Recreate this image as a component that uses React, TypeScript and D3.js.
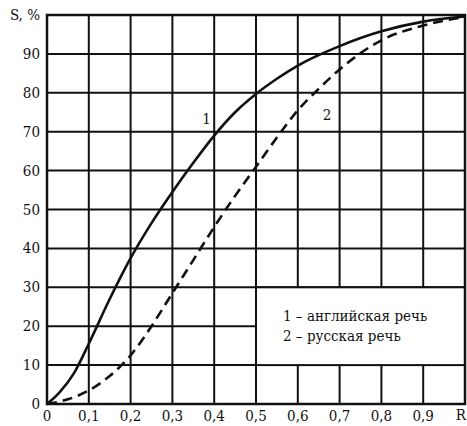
import React from "react";
import * as d3 from "d3";

const xTicks = [0, 0.1, 0.2, 0.3, 0.4, 0.5, 0.6, 0.7, 0.8, 0.9];
const yTicks = [0, 10, 20, 30, 40, 50, 60, 70, 80, 90];
const gridX = [0.1, 0.2, 0.3, 0.4, 0.5, 0.6, 0.7, 0.8, 0.9];
const gridY = [10, 20, 30, 40, 50, 60, 70, 80, 90];

const rEnglish = [0, 0.03, 0.065, 0.1, 0.15, 0.2, 0.25, 0.3, 0.35, 0.4, 0.45, 0.5, 0.55, 0.6, 0.7, 0.8, 0.9, 1.0];
const sEnglish = [0, 3, 8, 15.5, 27, 37.5, 46.5, 54.5, 62, 69, 75, 79.7, 83.6, 87, 92, 95.8, 98.3, 99.6];

const rRussian = [0, 0.05, 0.1, 0.15, 0.2, 0.25, 0.3, 0.35, 0.4, 0.45, 0.5, 0.55, 0.6, 0.65, 0.7, 0.8, 0.9, 1.0];
const sRussian = [0, 1.2, 3.5, 7.2, 12.5, 20, 28.5, 37, 45.5, 53.5, 61, 68.5, 75.5, 81, 86, 93.5, 97.3, 99.5];

const legendLines = ["1 – английская речь", "2 – русская речь"];

const FONT = "'DejaVu Serif Condensed', 'DejaVu Serif', serif";

export default function App() {
  const W = 467, H = 426;
  const x = d3.scaleLinear().domain([0, 1]).range([47, 465]);
  const y = d3.scaleLinear().domain([0, 100]).range([404, 15]);
  const line = d3
    .line<[number, number]>()
    .x((d) => x(d[0]))
    .y((d) => y(d[1]))
    .curve(d3.curveMonotoneX);
  const eng = line(rEnglish.map((r, i) => [r, sEnglish[i]]) as [number, number][]) || "";
  const rus = line(rRussian.map((r, i) => [r, sRussian[i]]) as [number, number][]) || "";
  const ts: React.CSSProperties = { fontFamily: FONT, fontSize: 15 };
  return (
    <svg width={W} height={H} style={{ position: "absolute", left: 0, top: 0, background: "#fff", fontFamily: FONT }}>
      <rect x={0} y={0} width={W} height={H} fill="#fff" />
      {gridX.map((v) => (
        <line key={"gx" + v} x1={x(v)} x2={x(v)} y1={y(100)} y2={y(0)} stroke="#111" strokeWidth={2} />
      ))}
      {gridY.map((v) => (
        <line key={"gy" + v} x1={x(0)} x2={x(1)} y1={y(v)} y2={y(v)} stroke="#111" strokeWidth={2} />
      ))}
      <rect x={x(0.5)} y={y(30)} width={x(1) - x(0.5)} height={y(10) - y(30)} fill="#fff" stroke="#111" strokeWidth={2} />
      <rect x={x(0)} y={y(100)} width={x(1) - x(0)} height={y(0) - y(100)} fill="none" stroke="#111" strokeWidth={2.5} />
      <path d={eng} fill="none" stroke="#111" strokeWidth={2.6} />
      <path d={rus} fill="none" stroke="#111" strokeWidth={2.6} strokeDasharray="10 6" />
      <text x={x(0.4) - 12} y={y(72)} style={ts} fill="#111">1</text>
      <text x={x(0.65) + 4} y={y(73)} style={ts} fill="#111">2</text>
      {legendLines.map((t, i) => (
        <text key={t} x={283} y={321 + i * 20} style={ts} fill="#111">{t}</text>
      ))}
      {yTicks.map((v) => (
        <text key={"yt" + v} x={40} y={y(v) + 5} style={ts} textAnchor="end" fill="#111">{v}</text>
      ))}
      <text x={40} y={y(100) + 5} style={ts} textAnchor="end" fill="#111">S, %</text>
      {xTicks.map((v) => (
        <text key={"xt" + v} x={x(v)} y={421} style={ts} textAnchor="middle" fill="#111">
          {v === 0 ? "0" : v.toFixed(1).replace(".", ",")}
        </text>
      ))}
      <text x={466} y={420} style={ts} textAnchor="end" fill="#111">R</text>
    </svg>
  );
}
